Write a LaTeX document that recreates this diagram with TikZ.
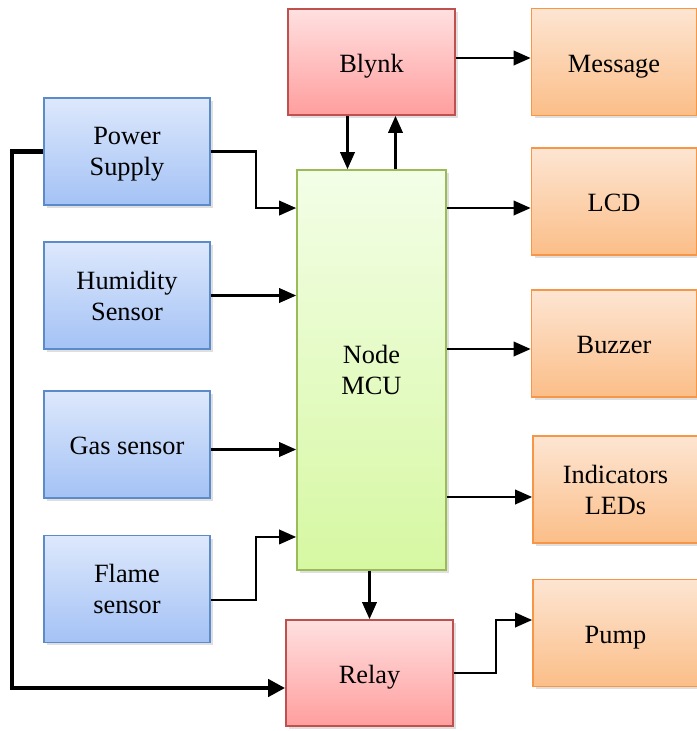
\documentclass[tikz,border=0pt]{standalone}
\usepackage{fontspec}
\setmainfont{Liberation Serif}
\usepackage{tikz}
\usetikzlibrary{arrows.meta, shadows}
\definecolor{inline}{HTML}{5B8BC9}
\definecolor{intop}{HTML}{DDE8FC}
\definecolor{inbot}{HTML}{A4C2F5}
\definecolor{redline}{HTML}{C0504D}
\definecolor{redtop}{HTML}{FFE0E0}
\definecolor{redbot}{HTML}{FF9E9E}
\definecolor{orline}{HTML}{F79646}
\definecolor{ortop}{HTML}{FDE5D2}
\definecolor{orbot}{HTML}{FBBE88}
\definecolor{grline}{HTML}{9BBB59}
\definecolor{grtop}{HTML}{F3FEE7}
\definecolor{grbot}{HTML}{D6F8A2}
\tikzset{
  blk/.style={rectangle,align=center,font=\fontsize{15}{17.5}\selectfont,
    execute at begin node={\rule[-3.5pt]{0pt}{18.5pt}},
    line width=1pt,drop shadow={shadow xshift=0.6mm,shadow yshift=-0.6mm,opacity=0.25}},
  two/.style={text depth=-0.8pt},
  inbox/.style={blk,draw=inline,top color=intop,bottom color=inbot,
    minimum width=3.32cm,minimum height=2.14cm},
  redbox/.style={blk,draw=redline,top color=redtop,bottom color=redbot,
    minimum width=3.34cm,minimum height=2.12cm},
  outbox/.style={blk,draw=orline,top color=ortop,bottom color=orbot,
    minimum width=3.3cm,minimum height=2.14cm},
  mcubox/.style={blk,draw=grline,top color=grtop,bottom color=grbot,
    minimum width=2.98cm,minimum height=8cm},
  ar/.style={-{Triangle[length=3.4mm,width=2.9mm]},line width=1.2pt,draw=black},
  pwr/.style={-{Triangle[length=3.4mm,width=3.4mm]},line width=2.6pt,draw=black}
}
\begin{document}
\begin{tikzpicture}[x=0.02cm,y=-0.02cm]
\useasboundingbox (0,0) rectangle (697,731);
% inputs
\node[inbox,two] (ps) at (127,151.5) {Power\\Supply};
\node[inbox,two] (hum) at (127,295.5) {Humidity\\Sensor};
\node[inbox] (gas) at (127,444.5) {Gas sensor};
\node[inbox,two] (flame) at (127,589) {Flame\\sensor};
% controller
\node[mcubox,two] (mcu) at (371.5,370) {Node\\MCU};
\node[redbox] (blynk) at (371.5,62) {Blynk};
\node[redbox] (relay) at (369.5,673) {Relay};
% outputs
\node[outbox] (msg) at (614,62) {Message};
\node[outbox] (lcd) at (614,201.5) {LCD};
\node[outbox] (buzz) at (614,343.5) {Buzzer};
\node[outbox,two] (leds) at (615.5,489.5) {Indicators\\LEDs};
\node[outbox] (pump) at (615.5,633) {Pump};
\coordinate (lcdin) at ([yshift=-0.13cm]lcd.west);
\coordinate (buzzin) at ([yshift=-0.11cm]buzz.west);
\coordinate (ledsin) at ([yshift=-0.15cm]leds.west);

\draw[ar] (ps.east) -- ++(45,0) |- ([yshift=3.24cm]mcu.west);
\draw[ar] (hum.east) -- (hum.east -| mcu.west);
\draw[ar] ([yshift=-0.1cm]gas.east) -- ([yshift=-0.1cm]gas.east -| mcu.west);
\draw[ar] ([yshift=-0.22cm]flame.east) -- ++(45,0) |- ([yshift=-3.34cm]mcu.west);
\draw[ar] ([xshift=-0.48cm]blynk.south) -- ([xshift=-0.48cm]mcu.north);
\draw[ar] ([xshift=0.48cm]mcu.north) -- ([xshift=0.48cm]blynk.south);
\draw[ar] ([yshift=0.08cm]blynk.east) -- ([yshift=0.08cm]msg.west);
\draw[ar] (mcu.east |- lcdin) -- (lcdin);
\draw[ar] (mcu.east |- buzzin) -- (buzzin);
\draw[ar] (mcu.east |- ledsin) -- (ledsin);
\draw[ar] (mcu.south -| relay.north) -- (relay.north);
\draw[ar] (relay.east) -- ++(42,0) |- ([yshift=0.26cm]pump.west);
\draw[pwr] (ps.west) -- ++(-31,0) |- ([yshift=-0.3cm]relay.west);
\end{tikzpicture}
\end{document}
